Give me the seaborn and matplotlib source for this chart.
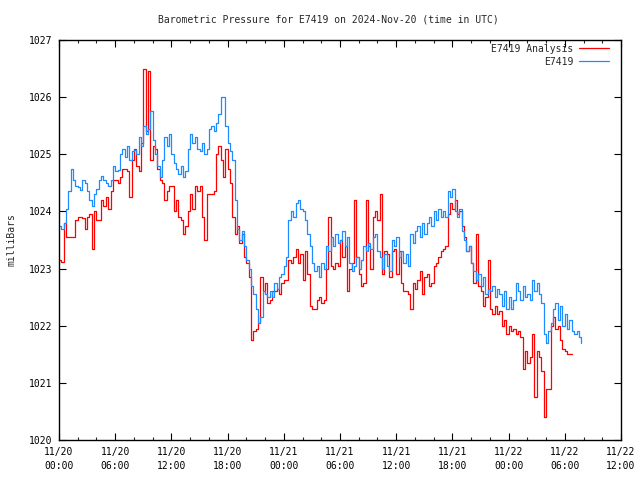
import numpy as np
import pandas as pd
import matplotlib
matplotlib.use("Agg")
import matplotlib.pyplot as plt
import seaborn as sns
from matplotlib.ticker import MultipleLocator

title = "Barometric Pressure for E7419 on 2024-Nov-20 (time in UTC)"
ylabel = "milliBars"
series_names = ["E7419 Analysis", "E7419"]
step_hours = 0.25  # sampling interval of the listed values (hours since 11/20 00:00)

# E7419 observed pressure (mb), one row per hour, 15-minute samples
obs = [
    1023.75, 1023.70, 1023.80, 1024.05,
    1024.35, 1024.75, 1024.55, 1024.45,
    1024.42, 1024.38, 1024.55, 1024.50,
    1024.35, 1024.20, 1024.10, 1024.30,
    1024.40, 1024.55, 1024.62, 1024.55,
    1024.50, 1024.45, 1024.55, 1024.80,
    1024.70, 1024.72, 1025.00, 1025.10,
    1024.95, 1025.15, 1024.90, 1025.05,
    1025.08, 1025.00, 1025.30, 1025.15,
    1025.50, 1025.35, 1025.45, 1025.75,
    1025.25, 1025.00, 1024.80, 1024.60,
    1024.90, 1025.30, 1025.15, 1025.35,
    1025.00, 1024.85, 1024.75, 1024.65,
    1024.80, 1024.60, 1024.70, 1025.10,
    1025.35, 1025.20, 1025.30, 1025.10,
    1025.05, 1025.20, 1025.00, 1025.10,
    1025.45, 1025.50, 1025.40, 1025.55,
    1025.70, 1026.00, 1026.00, 1025.50,
    1025.20, 1025.05, 1024.90, 1024.20,
    1023.70, 1023.50, 1023.65, 1023.40,
    1023.15, 1023.00, 1022.70, 1022.55,
    1022.30, 1022.05, 1022.15, 1022.60,
    1022.55, 1022.50, 1022.60, 1022.50,
    1022.75, 1022.65, 1022.85, 1022.90,
    1023.05, 1023.20, 1023.85, 1024.00,
    1023.90, 1024.15, 1024.20, 1024.05,
    1024.00, 1023.85, 1023.60, 1023.40,
    1023.10, 1022.95, 1023.05, 1022.85,
    1023.10, 1023.00, 1023.40, 1023.30,
    1023.55, 1023.40, 1023.60, 1023.45,
    1023.50, 1023.65, 1023.40, 1023.55,
    1023.10, 1022.95, 1023.05, 1023.20,
    1023.00, 1023.15, 1023.40, 1023.30,
    1023.45, 1023.35, 1023.55, 1023.60,
    1023.30, 1023.20, 1023.00, 1023.25,
    1023.05, 1022.95, 1023.50, 1023.40,
    1023.55, 1023.20, 1023.30, 1023.10,
    1023.25, 1023.05, 1023.60, 1023.45,
    1023.65, 1023.75, 1023.55, 1023.80,
    1023.60, 1023.80, 1023.90, 1023.75,
    1024.00, 1023.85, 1024.05, 1023.90,
    1024.00, 1023.90, 1024.35, 1024.25,
    1024.40, 1024.00, 1023.90, 1024.05,
    1023.65, 1023.50, 1023.30, 1023.40,
    1023.10, 1022.95, 1022.80, 1022.90,
    1022.70, 1022.85, 1022.55, 1022.65,
    1022.60, 1022.70, 1022.50, 1022.65,
    1022.55, 1022.35, 1022.60, 1022.30,
    1022.50, 1022.30, 1022.45, 1022.75,
    1022.60, 1022.45, 1022.70, 1022.50,
    1022.55, 1022.45, 1022.80, 1022.60,
    1022.75, 1022.55, 1022.40, 1021.85,
    1021.70, 1021.90, 1022.05, 1022.30,
    1022.40, 1022.10, 1022.35, 1022.00,
    1022.20, 1021.95, 1022.10, 1021.90,
    1021.85, 1021.90, 1021.80, 1021.70,
]

# E7419 Analysis pressure (mb), one row per hour, 15-minute samples
analysis = [
    1023.15, 1023.12, 1023.80, 1023.55,
    1023.55, 1023.55, 1023.55, 1023.85,
    1023.90, 1023.90, 1023.88, 1023.70,
    1023.90, 1023.95, 1023.35, 1024.00,
    1023.85, 1023.85, 1024.20, 1024.10,
    1024.25, 1024.05, 1024.35, 1024.55,
    1024.55, 1024.50, 1024.60, 1024.75,
    1024.75, 1024.70, 1024.25, 1024.90,
    1025.10, 1024.80, 1024.70, 1025.20,
    1026.50, 1025.40, 1026.45, 1024.90,
    1025.15, 1025.10, 1024.75, 1024.55,
    1024.50, 1024.20, 1024.35, 1024.45,
    1024.45, 1024.00, 1024.20, 1023.90,
    1023.85, 1023.60, 1023.75, 1024.00,
    1024.30, 1024.05, 1024.45, 1024.35,
    1024.45, 1023.90, 1023.50, 1024.30,
    1024.30, 1024.30, 1024.35, 1025.00,
    1025.15, 1024.90, 1024.60, 1025.10,
    1024.75, 1024.50, 1023.90, 1023.60,
    1023.75, 1023.45, 1023.60, 1023.20,
    1023.10, 1022.85, 1021.75, 1021.90,
    1021.95, 1022.05, 1022.85, 1022.60,
    1022.75, 1022.40, 1022.45, 1022.60,
    1022.60, 1022.65, 1022.55, 1022.75,
    1022.80, 1022.80, 1023.15, 1023.10,
    1023.20, 1023.35, 1023.10, 1023.25,
    1022.80, 1023.30, 1022.90, 1022.35,
    1022.30, 1022.30, 1022.45, 1022.50,
    1022.40, 1022.45, 1023.00, 1023.90,
    1023.05, 1023.00, 1023.10, 1023.05,
    1023.50, 1023.20, 1023.40, 1022.60,
    1023.00, 1023.10, 1024.20, 1023.20,
    1022.90, 1022.70, 1022.75, 1024.20,
    1023.40, 1023.00, 1023.90, 1024.00,
    1023.85, 1024.30, 1022.90, 1023.30,
    1023.25, 1022.85, 1023.30, 1023.35,
    1022.90, 1023.30, 1022.75, 1022.60,
    1022.60, 1022.55, 1022.30, 1022.75,
    1022.65, 1022.80, 1022.95, 1022.55,
    1022.85, 1022.90, 1022.70, 1022.75,
    1023.05, 1023.10, 1023.20, 1023.30,
    1023.35, 1023.40, 1023.95, 1024.15,
    1024.05, 1024.20, 1023.95, 1024.00,
    1023.75, 1023.55, 1023.30, 1023.40,
    1023.10, 1022.75, 1023.60, 1022.70,
    1022.60, 1022.35, 1022.50, 1023.15,
    1022.30, 1022.20, 1022.35, 1022.20,
    1022.25, 1022.00, 1022.10, 1021.85,
    1022.00, 1021.90, 1021.95, 1021.85,
    1021.90, 1021.80, 1021.25, 1021.55,
    1021.35, 1021.45, 1021.85, 1020.75,
    1021.55, 1021.45, 1021.20, 1020.40,
    1020.90, 1020.90, 1022.00, 1022.15,
    1021.95, 1022.00, 1021.75, 1021.60,
    1021.55, 1021.50, 1021.50, 1021.50,
]

xtick_pos = [0, 6, 12, 18, 24, 30, 36, 42, 48, 54, 60]
xtick_labels = ["11/20\n00:00", "11/20\n06:00", "11/20\n12:00", "11/20\n18:00",
                "11/21\n00:00", "11/21\n06:00", "11/21\n12:00", "11/21\n18:00",
                "11/22\n00:00", "11/22\n06:00", "11/22\n12:00"]
yticks = [1020, 1021, 1022, 1023, 1024, 1025, 1026, 1027]

df = pd.concat([
    pd.DataFrame({"hours": np.arange(len(analysis)) * step_hours,
                  "pressure": analysis, "series": series_names[0]}),
    pd.DataFrame({"hours": np.arange(len(obs)) * step_hours,
                  "pressure": obs, "series": series_names[1]}),
], ignore_index=True)

sns.set_style("white")
mono = ["DejaVu Sans Mono"]
plt.rcParams["font.family"] = mono
fs = 7

fig = plt.figure(figsize=(6.4, 4.8), dpi=100)
ax = fig.add_axes([59 / 640, 1 - 440 / 480, (621 - 59) / 640, 400 / 480])

sns.lineplot(data=df, x="hours", y="pressure", hue="series",
             palette={series_names[0]: "#FF0000", series_names[1]: "#1E8CFF"},
             estimator=None, drawstyle="steps-post", linewidth=0.9, ax=ax)

ax.set_xlim(0, 60)
ax.set_ylim(1020, 1027)
ax.set_xticks(xtick_pos)
ax.set_xticklabels(xtick_labels, fontsize=fs, linespacing=1.5)
ax.xaxis.set_minor_locator(MultipleLocator(2))
ax.set_yticks(yticks)
ax.set_yticklabels([str(v) for v in yticks], fontsize=fs)
ax.tick_params(which="major", direction="in", length=5, width=0.8,
               top=True, right=True, bottom=True, left=True, pad=5, colors="black")
ax.tick_params(which="minor", direction="in", length=2.5, width=0.8,
               top=True, bottom=True, left=False, right=False)
for sp in ax.spines.values():
    sp.set_visible(True)
    sp.set_color("black")
    sp.set_linewidth(1.0)

ax.set_xlabel("")
ax.set_ylabel(ylabel, fontsize=fs, labelpad=9)
fig.text(0.5 + 8 / 640, 1 - 20 / 480, title, ha="center", va="center", fontsize=fs)

handles, labels = ax.get_legend_handles_labels()
ax.legend(handles, labels, loc="upper right", bbox_to_anchor=(0.99, 1.008),
          frameon=False, fontsize=fs, markerfirst=False, handlelength=3.0,
          handletextpad=0.6, labelspacing=0.3, borderaxespad=0.3)

fig.savefig("out.png", dpi=100)
